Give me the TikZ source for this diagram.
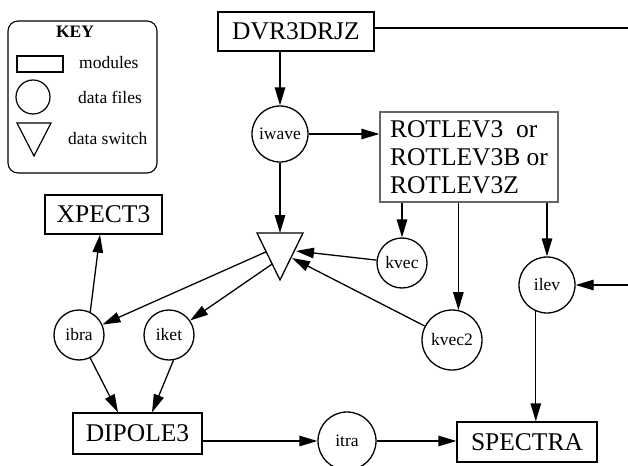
\documentclass[tikz,border=0pt]{standalone}
\usepackage{fontspec}
\setmainfont{Liberation Serif}
\newfontfamily\tms{Liberation Serif}
\usetikzlibrary{arrows.meta,calc}
\tikzset{
  line/.style={line width=1.3pt},
  arr/.style={line width=1.3pt,-{Triangle[length=18pt,width=10.5pt]}},
  module/.style={draw,line width=1.3pt,inner sep=0pt,font=\tms\fontsize{25.5}{28}\selectfont},
  datafile/.style={draw,circle,line width=1.3pt,inner sep=0pt,font=\tms\fontsize{17.5}{20}\selectfont},
  keytext/.style={anchor=west,inner sep=0pt,font=\tms\fontsize{17.5}{20}\selectfont},
}
\begin{document}
\begin{tikzpicture}[x=1pt,y=-1pt]
\useasboundingbox (0,0) rectangle (628,465);
% key
\draw[line width=1.1pt,rounded corners=10pt] (8,21) rectangle (157,173);
\node[inner sep=0pt,font=\tms\fontsize{17.5}{20}\selectfont\bfseries] (keytitle) at (75,32) {KEY};
\draw[line width=1.2pt] (17,56) rectangle (63,72);
\node[keytext] (kmod) at (79,63) {modules};
\draw[line width=1.2pt] (33,97) circle (17);
\node[keytext] (kfile) at (78,97) {data files};
\draw[line width=1.2pt] (17,123) -- (51,123) -- (34,156) -- cycle;
\node[keytext] (kswitch) at (68,139) {data switch};

% modules
\node[module,minimum width=156,minimum height=39] (DVR) at (296,31.5) {DVR3DRJZ};
\node[module,minimum width=117,minimum height=39] (XPECT) at (103.5,214.5) {XPECT3};
\node[module,minimum width=129,minimum height=41] (DIPOLE) at (137.5,433.5) {DIPOLE3};
\node[module,minimum width=140,minimum height=40] (SPECTRA) at (527,442) {SPECTRA};
\node[module,draw=black!60,minimum width=178,minimum height=90,align=left] (ROT) at (469,157)
  {ROTLEV3\ \ or\\ROTLEV3B or\\ROTLEV3Z};

% data files
\node[datafile,minimum size=56] (iwave) at (280,134) {iwave};
\node[datafile,minimum size=50] (kvec) at (402,263) {kvec};
\node[datafile,minimum size=56] (ilev) at (547,285) {ilev};
\node[datafile,minimum size=60] (kvec2) at (452,340) {kvec2};
\node[datafile,minimum size=58] (itra) at (347,441) {itra};
\node[datafile,minimum size=50] (ibra) at (79,335) {ibra};
\node[datafile,minimum size=50] (iket) at (169,335) {iket};

% data switch
\coordinate (swL) at (257,233);
\coordinate (swR) at (303,233);
\coordinate (swB) at (280,280);
\draw[line width=1.3pt] (swL) -- (swR) -- (swB) -- cycle;
\coordinate (swTop) at (280,233);
\coordinate (swOutA) at ($(swL)!0.40!(swB)$);
\coordinate (swOutB) at ($(swL)!0.66!(swB)$);
\coordinate (swInA) at (296,251);
\coordinate (swInB) at (292,258);
\coordinate (dvrEnd) at (628,28);
\coordinate (ilevEnd) at (628,285);

% connectors
\draw[line] (DVR.east |- dvrEnd) -- (dvrEnd);
\draw[arr] (DVR.south -| iwave) -- (iwave);
\draw[arr] (iwave) -- (iwave -| ROT.west);
\draw[arr] (iwave) -- (swTop);
\draw[arr] (ROT.south -| kvec) -- (kvec);
\draw[arr] (ROT.south -| kvec2.78) -- (kvec2.78);
\draw[arr] (ROT.south -| ilev) -- (ilev);
\draw[arr] (kvec) -- (swInA);
\draw[arr] (kvec2) -- (swInB);
\draw[arr] (ilevEnd) -- (ilev);
\draw[arr] (ilev.247) -- (ilev.247 |- SPECTRA.north);
\draw[arr] (swOutA) -- (ibra);
\draw[arr] (swOutB) -- (iket);
\draw[arr] (ibra.64) -- ([xshift=-3.5pt]XPECT.south);
\draw[arr] (ibra.-64) -- ([xshift=-19.5pt]DIPOLE.north);
\draw[arr] (iket.-80) -- ([xshift=14.5pt]DIPOLE.north);
\draw[arr] (DIPOLE.east |- itra) -- (itra);
\draw[arr] (itra) -- (SPECTRA.west |- itra);
\end{tikzpicture}
\end{document}
